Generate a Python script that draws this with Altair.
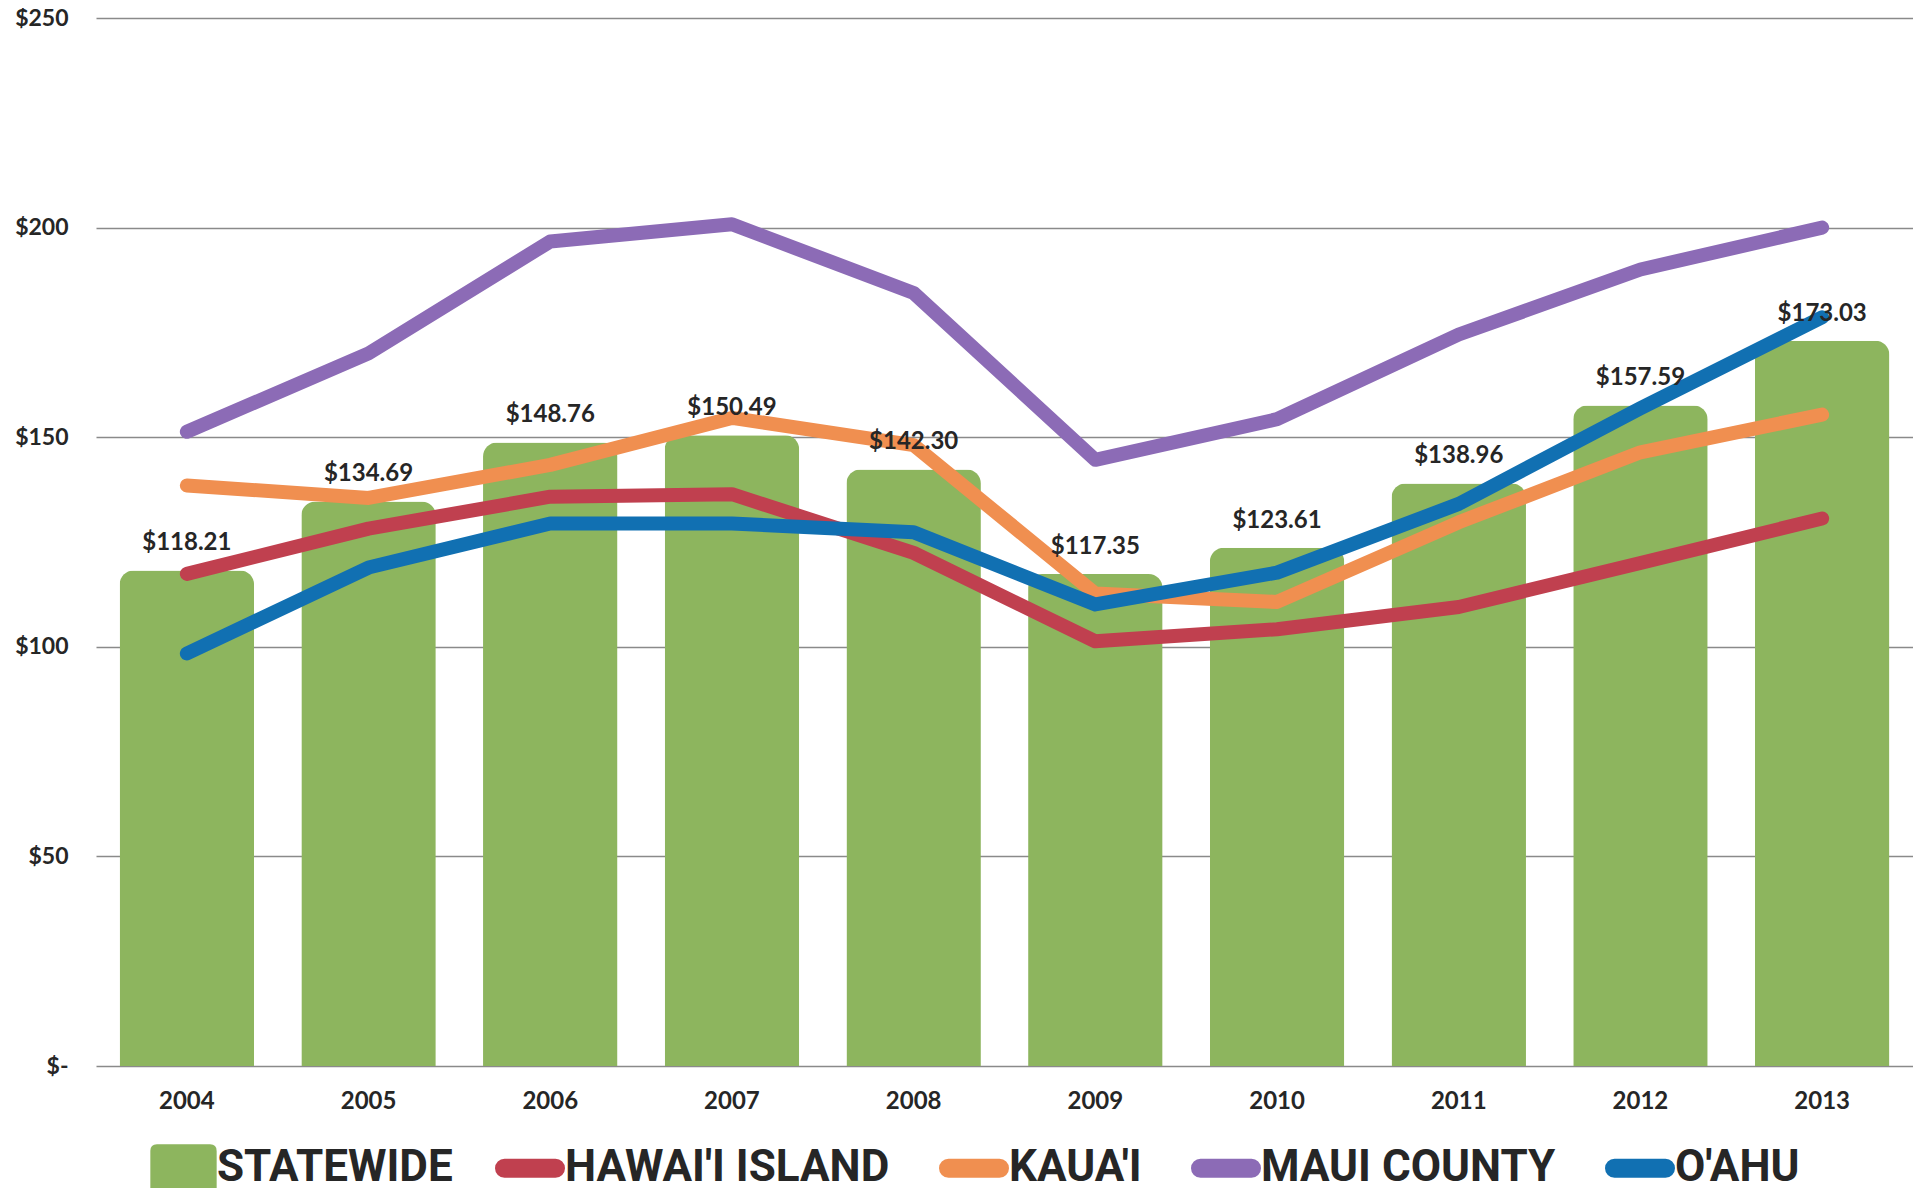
import altair as alt
import pandas as pd

years = ["2004", "2005", "2006", "2007", "2008", "2009", "2010", "2011", "2012", "2013"]
statewide = [118.21, 134.69, 148.76, 150.49, 142.30, 117.35, 123.61, 138.96, 157.59, 173.03]
hawaii_island = [117.4, 128.2, 135.8, 136.4, 122.4, 101.3, 104.2, 109.5, 120.0, 130.6]
kauai = [138.5, 135.5, 143.4, 154.6, 148.1, 112.7, 110.7, 129.7, 146.4, 155.4]
maui_county = [151.3, 170.0, 196.7, 200.8, 184.4, 144.6, 154.3, 174.5, 190.0, 200.0]
oahu = [98.4, 118.9, 129.4, 129.4, 127.3, 110.1, 117.7, 134.1, 156.9, 178.6]

line_series = ["HAWAI'I ISLAND", "KAUA'I", "MAUI COUNTY", "O'AHU"]
line_values = [hawaii_island, kauai, maui_county, oahu]
line_colors = ["#c0404f", "#f08f50", "#8c6bb6", "#1170b2"]
line_widths = [14, 14, 14, 16]

bar_df = pd.DataFrame({"year": years, "value": statewide, "series": "STATEWIDE"})
line_df = pd.DataFrame(
    [{"year": y, "value": v, "series": s} for s, vals in zip(line_series, line_values) for y, v in zip(years, vals)]
)

AX_FONT = "Lato"
LEG_FONT = "Roboto"
TXT = "#262626"

x_enc = alt.X(
    "year:N",
    sort=years,
    scale=alt.Scale(paddingInner=0.26, paddingOuter=0.13),
    axis=alt.Axis(title=None, labelAngle=0, domain=False, ticks=False, labelPadding=23,
                  labelFont=AX_FONT, labelFontSize=24, labelFontWeight="bold", labelColor=TXT),
)
y_scale = alt.Scale(domain=[0, 250], nice=False)
y_enc = alt.Y(
    "value:Q",
    scale=y_scale,
    axis=alt.Axis(title=None, values=[0, 50, 100, 150, 200, 250], domain=False, ticks=False,
                  grid=True, gridColor="#8a8a8a", gridWidth=1.5, labelPadding=28,
                  labelExpr="datum.value == 0 ? '$-' : '$' + datum.value",
                  labelFont=AX_FONT, labelFontSize=23, labelFontWeight="bold", labelColor=TXT),
)

square_path = "M-1,-0.5 Q-1,-0.7 -0.8,-0.7 L0.8,-0.7 Q1,-0.7 1,-0.5 L1,1.1 Q1,1.3 0.8,1.3 L-0.8,1.3 Q-1,1.3 -1,1.1 Z"
pill_path = "M-0.91,-0.09 L0.91,-0.09 A0.09,0.09 0 0 1 0.91,0.09 L-0.91,0.09 A0.09,0.09 0 0 1 -0.91,-0.09 Z"

bars = alt.Chart(bar_df).mark_bar(cornerRadiusTopLeft=14, cornerRadiusTopRight=14).encode(
    x=x_enc,
    y=y_enc,
    fill=alt.Fill("series:N", scale=alt.Scale(domain=["STATEWIDE"], range=["#8db55e"]),
                  legend=alt.Legend(title=None, orient="none", legendX=54, legendY=1116,
                                    symbolType=square_path, symbolSize=4400, symbolStrokeWidth=0,
                                    labelFont=LEG_FONT, labelFontSize=44, labelFontWeight="bold",
                                    labelColor=TXT, labelOffset=0, labelLimit=0)),
)

labels = alt.Chart(bar_df).mark_text(font=AX_FONT, fontSize=24, fontWeight="bold", color=TXT,
                                     baseline="middle", dy=-27).encode(
    x=alt.X("year:N", sort=years),
    y=alt.Y("value:Q"),
    text=alt.Text("value:Q", format="$.2f"),
)

lines = alt.Chart(line_df).mark_line(strokeCap="round", strokeJoin="round").encode(
    x=alt.X("year:N", sort=years),
    y=alt.Y("value:Q"),
    stroke=alt.Stroke("series:N", scale=alt.Scale(domain=line_series, range=line_colors),
                      legend=alt.Legend(title=None, orient="none", legendX=399, legendY=1115,
                                        direction="horizontal", columns=4, columnPadding=28,
                                        symbolType=pill_path, symbolSize=3136, symbolStrokeWidth=10,
                                        labelFont=LEG_FONT, labelFontSize=44, labelFontWeight="bold",
                                        labelColor=TXT, labelOffset=0, labelLimit=0)),
    strokeWidth=alt.StrokeWidth("series:N", scale=alt.Scale(domain=line_series, range=line_widths),
                                legend=None),
)

chart = alt.layer(bars, lines, labels).properties(
    width=1817,
    height=1048,
    autosize=alt.AutoSizeParams(type="none"),
    padding={"left": 88, "top": 10, "right": 0, "bottom": 122},
    background="white",
).configure_view(strokeWidth=0)

chart.save("out.html", embed_options={"renderer": "svg", "actions": False})
